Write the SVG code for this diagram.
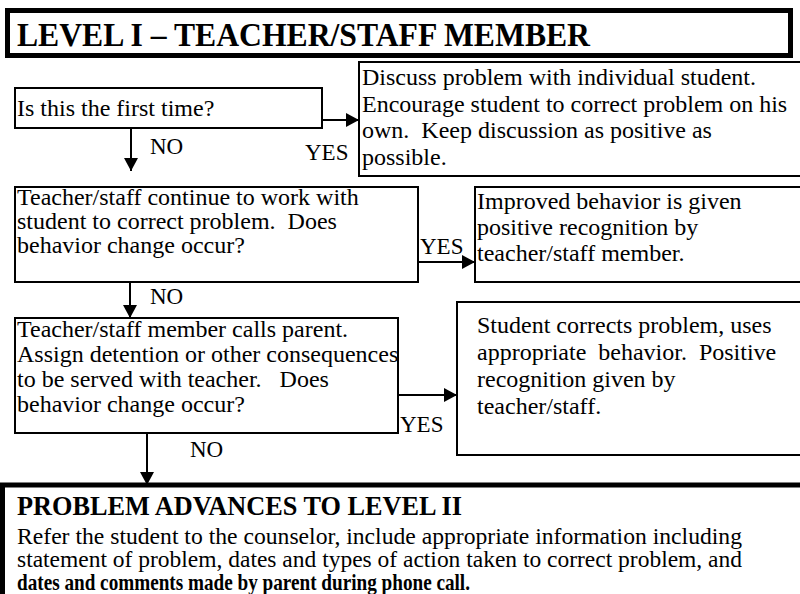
<svg xmlns="http://www.w3.org/2000/svg" width="800" height="594" viewBox="0 0 800 594">
<defs>
<marker id="ah" markerUnits="userSpaceOnUse" markerWidth="13" markerHeight="14" refX="13" refY="7" orient="auto">
<path d="M0,0 L13,7 L0,14 z" fill="#000"/>
</marker>
<style>
.box{fill:#fff;stroke:#000;stroke-width:2}
.thick{fill:#fff;stroke:#000;stroke-width:5}
text{font-family:'Liberation Serif','DejaVu Serif',serif;font-size:24px;fill:#000}
.b{font-weight:bold}
.lbl{font-size:23px}
.c{stroke:#000;stroke-width:2;fill:none;marker-end:url(#ah)}
</style>
</defs>
<rect width="800" height="594" fill="#fff"/>
<g font-family="'Liberation Serif', 'DejaVu Serif', serif">
<g id="header">
<rect class="thick" x="7.5" y="10.5" width="783" height="45"/>
<text class="b" x="17" y="46" style="font-size:33px" textLength="573" lengthAdjust="spacingAndGlyphs">LEVEL I – TEACHER/STAFF MEMBER</text>
</g>
<g id="first-time">
<rect class="box" x="15" y="88" width="307" height="40"/>
<text x="17" y="116">Is this the first time?</text>
</g>
<g id="discuss">
<rect class="box" x="359" y="62" width="450" height="114"/>
<text x="362" y="85" xml:space="preserve">Discuss problem with individual student.</text>
<text x="362" y="112" xml:space="preserve">Encourage student to correct problem on his</text>
<text x="362" y="138" xml:space="preserve">own.  Keep discussion as positive as</text>
<text x="362" y="165">possible.</text>
</g>
<g id="continue">
<rect class="box" x="15" y="187" width="403" height="95"/>
<text x="17" y="205" xml:space="preserve">Teacher/staff continue to work with</text>
<text x="17" y="229" xml:space="preserve">student to correct problem.  Does</text>
<text x="17" y="253">behavior change occur?</text>
</g>
<g id="improved">
<rect class="box" x="475" y="187" width="340" height="95"/>
<text x="477" y="209">Improved behavior is given</text>
<text x="477" y="235">positive recognition by</text>
<text x="477" y="261">teacher/staff member.</text>
</g>
<g id="calls-parent">
<rect class="box" x="15" y="318" width="383" height="115"/>
<text x="17" y="337">Teacher/staff member calls parent.</text>
<text x="17" y="362">Assign detention or other consequences</text>
<text x="17" y="387" xml:space="preserve">to be served with teacher.   Does</text>
<text x="17" y="412">behavior change occur?</text>
</g>
<g id="student-corrects">
<rect class="box" x="457" y="302" width="360" height="153"/>
<text x="477" y="333">Student corrects problem, uses</text>
<text x="477" y="360" xml:space="preserve">appropriate  behavior.  Positive</text>
<text x="477" y="387">recognition given by</text>
<text x="477" y="414">teacher/staff.</text>
</g>
<g id="level-two">
<rect class="thick" x="2.5" y="485" width="900" height="200"/>
<text class="b" x="17" y="515" style="font-size:27px" textLength="445" lengthAdjust="spacingAndGlyphs">PROBLEM ADVANCES TO LEVEL II</text>
<text x="17" y="544" textLength="725" lengthAdjust="spacingAndGlyphs">Refer the student to the counselor, include appropriate information including</text>
<text x="17" y="567" textLength="725" lengthAdjust="spacingAndGlyphs">statement of problem, dates and types of action taken to correct problem, and</text>
<text class="b" x="17" y="590" style="font-size:23px" textLength="453" lengthAdjust="spacingAndGlyphs">dates and comments made by parent during phone call.</text>
</g>
<g id="connectors">
<line class="c" x1="322" y1="120" x2="359" y2="120"/>
<line class="c" x1="131" y1="128" x2="131" y2="171"/>
<line class="c" x1="418" y1="262" x2="475" y2="262"/>
<line class="c" x1="130" y1="282" x2="130" y2="318"/>
<line class="c" x1="398" y1="395" x2="457" y2="395"/>
<line class="c" x1="147" y1="433" x2="147" y2="485"/>
<text class="lbl" x="150" y="154">NO</text>
<text class="lbl" x="305" y="160">YES</text>
<text class="lbl" x="420" y="254">YES</text>
<text class="lbl" x="150" y="304">NO</text>
<text class="lbl" x="400" y="432">YES</text>
<text class="lbl" x="190" y="457">NO</text>
</g>
</g>
</svg>
